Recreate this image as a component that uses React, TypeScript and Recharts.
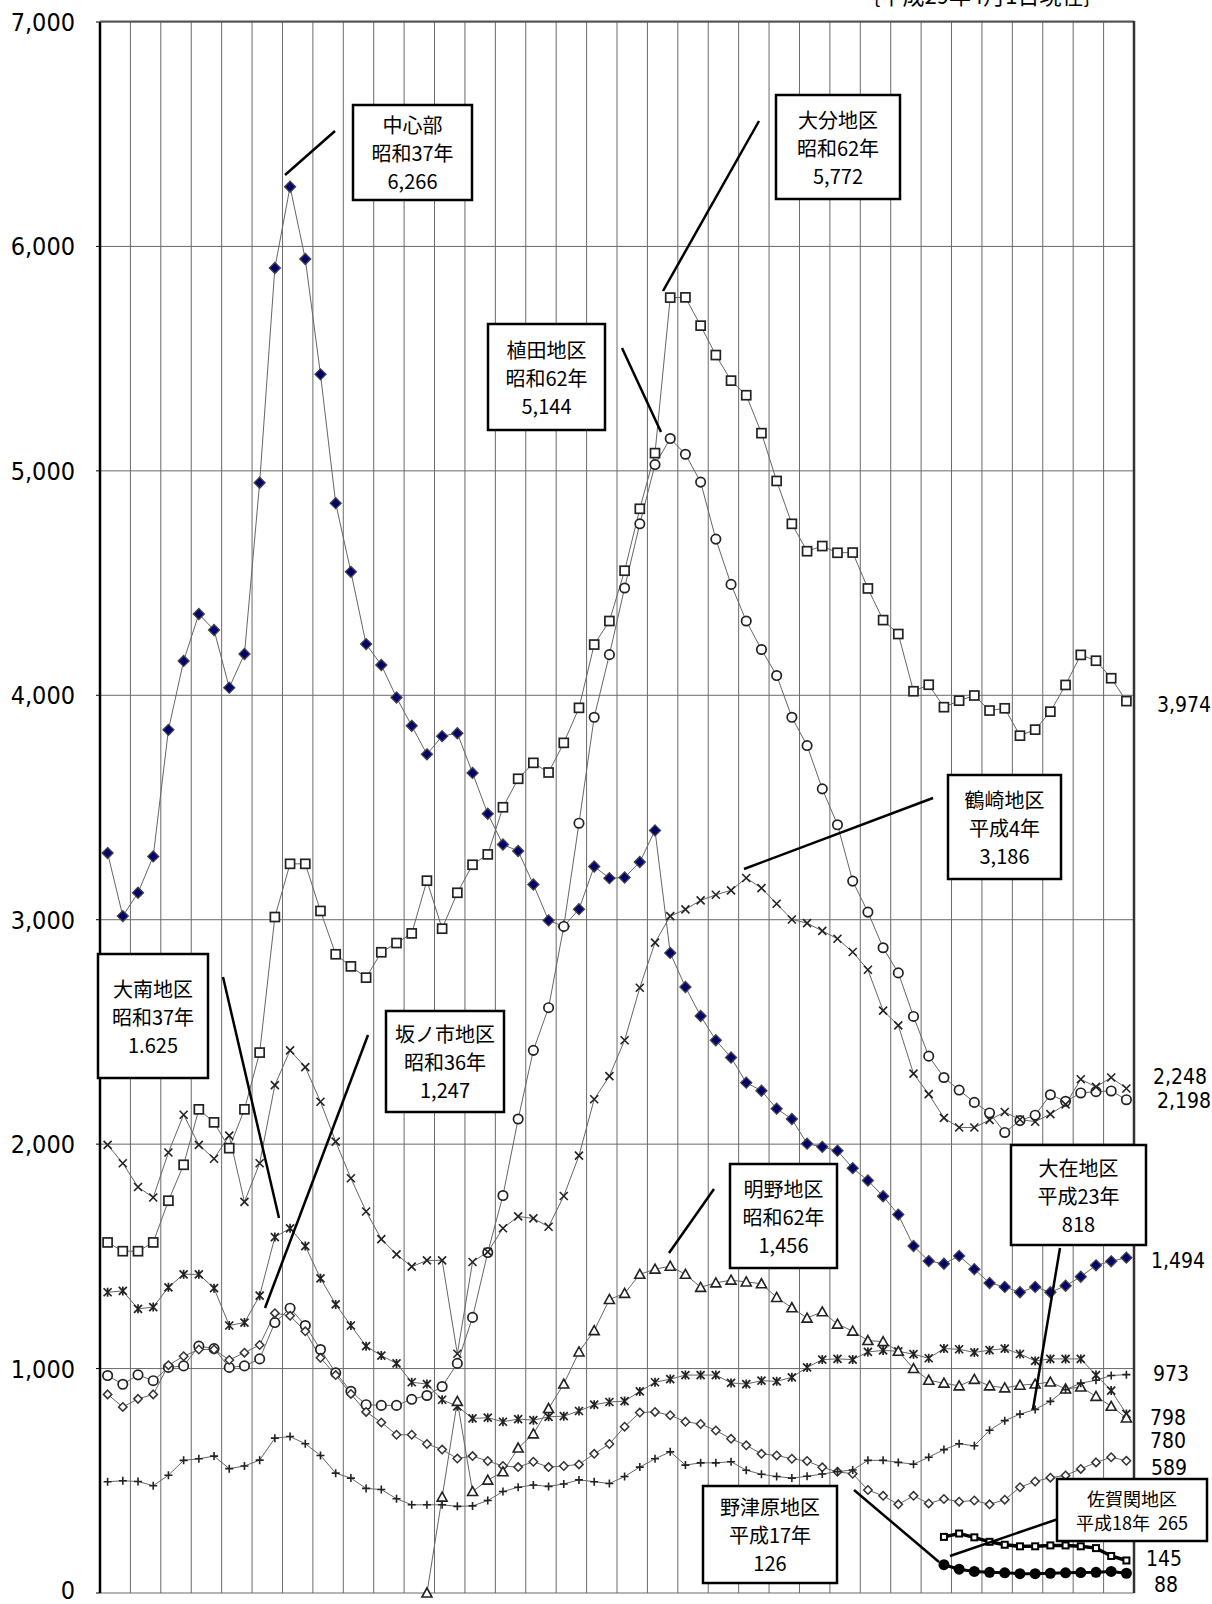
import React from "react";
import { LineChart, Line, XAxis, YAxis, CartesianGrid } from "recharts";

// 昭和25年(1950) から 平成29年(2017) まで
const YEARS = Array.from({ length: 68 }, (_, i) => 1950 + i);

const CHUSHIN = [
  3297, 3016, 3120, 3282, 3846, 4153, 4362, 4291, 4034, 4184,
  4947, 5904, 6266, 5944, 5430, 4856, 4550, 4228, 4135, 3990,
  3864, 3737, 3818, 3831, 3654, 3472, 3335, 3306, 3157, 2997,
  2970, 3047, 3237, 3185, 3188, 3257, 3398, 2852, 2700, 2571,
  2463, 2386, 2274, 2238, 2158, 2112, 2002, 1988, 1971, 1893,
  1838, 1768, 1686, 1546, 1479, 1467, 1502, 1443, 1381, 1364,
  1340, 1364, 1340, 1369, 1409, 1460, 1478, 1494,
];
const OITA = [
  1562, 1523, 1523, 1562, 1748, 1908, 2155, 2097, 1982, 2155,
  2408, 3012, 3249, 3249, 3039, 2846, 2792, 2742, 2855, 2896,
  2939, 3174, 2960, 3120, 3245, 3291, 3501, 3628, 3699, 3656,
  3788, 3944, 4226, 4331, 4555, 4831, 5079, 5772, 5773, 5647,
  5516, 5402, 5337, 5168, 4955, 4764, 4642, 4665, 4635, 4636,
  4476, 4335, 4273, 4018, 4047, 3947, 3976, 3999, 3932, 3942,
  3820, 3847, 3927, 4046, 4180, 4154, 4076, 3974,
];
const WASADA = [
  969, 930, 972, 946, 1005, 1012, 1100, 1089, 1005, 1012,
  1043, 1205, 1269, 1192, 1085, 981, 899, 839, 836, 836,
  863, 880, 920, 1023, 1228, 1517, 1771, 2112, 2418, 2608,
  2970, 3430, 3902, 4181, 4478, 4764, 5028, 5144, 5074, 4950,
  4696, 4494, 4331, 4204, 4088, 3902, 3776, 3583, 3423, 3172,
  3034, 2875, 2763, 2569, 2392, 2297, 2241, 2186, 2139, 2052,
  2105, 2129, 2220, 2191, 2228, 2234, 2237, 2198,
];
const TSURUSAKI = [
  1997, 1915, 1809, 1762, 1963, 2131, 1997, 1935, 2038, 1743,
  1915, 2263, 2418, 2343, 2189, 2011, 1848, 1700, 1577, 1509,
  1454, 1482, 1482, 1066, 1475, 1520, 1625, 1678, 1669, 1632,
  1769, 1949, 2200, 2303, 2463, 2697, 2898, 3016, 3046, 3086,
  3111, 3131, 3186, 3141, 3071, 3001, 2985, 2950, 2915, 2856,
  2777, 2595, 2529, 2314, 2223, 2117, 2074, 2074, 2108, 2143,
  2110, 2100, 2134, 2177, 2289, 2255, 2297, 2248,
];
const ONAN = [
  1340, 1346, 1266, 1274, 1362, 1420, 1420, 1358, 1192, 1205,
  1325, 1586, 1625, 1546, 1402, 1286, 1192, 1100, 1058, 1023,
  939, 931, 861, 832, 778, 781, 763, 775, 770, 785,
  788, 811, 839, 851, 855, 898, 939, 953, 971, 971,
  971, 936, 931, 946, 943, 961, 1005, 1040, 1043, 1040,
  1074, 1081, 1077, 1064, 1046, 1089, 1086, 1072, 1082, 1089,
  1065, 1034, 1043, 1043, 1043, 971, 902, 798,
];
const SAKANOICHI = [
  885, 829, 865, 885, 1015, 1055, 1085, 1085, 1038, 1071,
  1105, 1247, 1235, 1166, 1048, 971, 887, 807, 760, 705,
  705, 664, 639, 599, 610, 588, 566, 561, 585, 561,
  566, 573, 620, 664, 741, 804, 807, 792, 763, 753,
  724, 687, 658, 620, 613, 598, 588, 560, 540, 531,
  459, 433, 395, 433, 399, 419, 407, 412, 395, 416,
  471, 497, 514, 524, 553, 582, 605, 589,
];
const AKENO = [
  null, null, null, null, null, null, null, null, null, null,
  null, null, null, null, null, null, null, null, null, null,
  null, 0, 427, 854, 452, 503, 540, 646, 709, 822,
  931, 1074, 1169, 1308, 1335, 1420, 1443, 1456, 1420, 1362,
  1382, 1394, 1386, 1378, 1317, 1271, 1225, 1253, 1198, 1167,
  1125, 1120, 1077, 1000, 948, 935, 923, 952, 923, 914,
  926, 931, 940, 909, 918, 876, 832, 780,
];
const OZAI = [
  496, 500, 497, 478, 525, 591, 598, 610, 554, 566,
  592, 690, 697, 665, 613, 534, 512, 466, 461, 420,
  393, 393, 393, 386, 388, 412, 452, 471, 481, 475,
  486, 504, 496, 488, 519, 561, 598, 629, 570, 580,
  580, 585, 547, 529, 519, 512, 520, 530, 541, 548,
  591, 591, 582, 574, 605, 639, 665, 656, 725, 768,
  797, 818, 854, 906, 935, 948, 969, 973,
];
const NOTSUHARU = [
  null, null, null, null, null, null, null, null, null, null,
  null, null, null, null, null, null, null, null, null, null,
  null, null, null, null, null, null, null, null, null, null,
  null, null, null, null, null, null, null, null, null, null,
  null, null, null, null, null, null, null, null, null, null,
  null, null, null, null, null, 126, 106, 96, 92, 90,
  86, 86, 88, 90, 91, 92, 96, 88,
];
const SAGANOSEKI = [
  null, null, null, null, null, null, null, null, null, null,
  null, null, null, null, null, null, null, null, null, null,
  null, null, null, null, null, null, null, null, null, null,
  null, null, null, null, null, null, null, null, null, null,
  null, null, null, null, null, null, null, null, null, null,
  null, null, null, null, null, 250, 265, 248, 228, 215,
  208, 208, 212, 212, 208, 200, 165, 145,
];

const Y_TICKS = [0, 1000, 2000, 3000, 4000, 5000, 6000, 7000];
// 縦の目盛線は2年ごと（区間の境目）
const GRID_TICKS = Array.from({ length: 35 }, (_, k) => -0.5 + 2 * k);
const X_DOMAIN = [-0.5, 67.5];

const SERIES = [
  { key: "chushin", name: "中心部", values: CHUSHIN, shape: "fdiamond", color: "#666", width: 1 },
  { key: "oita", name: "大分地区", values: OITA, shape: "square", color: "#666", width: 1 },
  { key: "wasada", name: "植田地区", values: WASADA, shape: "circle", color: "#666", width: 1 },
  { key: "tsurusaki", name: "鶴崎地区", values: TSURUSAKI, shape: "cross", color: "#666", width: 1 },
  { key: "onan", name: "大南地区", values: ONAN, shape: "star", color: "#666", width: 1 },
  { key: "sakanoichi", name: "坂ノ市地区", values: SAKANOICHI, shape: "odiamond", color: "#666", width: 1 },
  { key: "akeno", name: "明野地区", values: AKENO, shape: "triangle", color: "#666", width: 1 },
  { key: "ozai", name: "大在地区", values: OZAI, shape: "plus", color: "#666", width: 1 },
  { key: "saganoseki", name: "佐賀関地区", values: SAGANOSEKI, shape: "bsquare", color: "#000", width: 3.5 },
  { key: "notsuharu", name: "野津原地区", values: NOTSUHARU, shape: "fcircle", color: "#000", width: 3 },
];

const data = YEARS.map((year, i) => {
  const row: any = { idx: i, year };
  SERIES.forEach((s) => {
    row[s.key] = s.values[i];
  });
  return row;
});

const makeDot = (shape: string) => (p: any) => {
  const { cx, cy, index, value } = p;
  const k = `${shape}-${index}`;
  if (value == null || cx == null || cy == null) return <g key={k} />;
  const ink = "#222";
  switch (shape) {
    case "fdiamond":
      return (
        <polygon key={k} points={`${cx},${cy - 5.5} ${cx + 5.5},${cy} ${cx},${cy + 5.5} ${cx - 5.5},${cy}`}
          fill="#00006e" stroke="#444" strokeWidth={1.3} />
      );
    case "square":
      return <rect key={k} x={cx - 4.5} y={cy - 4.5} width={9} height={9} fill="#fff" stroke={ink} strokeWidth={1.7} />;
    case "circle":
      return <circle key={k} cx={cx} cy={cy} r={4.7} fill="#fff" stroke={ink} strokeWidth={1.7} />;
    case "cross":
      return (
        <path key={k} d={`M${cx - 4},${cy - 4}L${cx + 4},${cy + 4}M${cx + 4},${cy - 4}L${cx - 4},${cy + 4}`}
          stroke={ink} strokeWidth={1.6} fill="none" />
      );
    case "star":
      return (
        <path key={k}
          d={`M${cx - 4},${cy - 4}L${cx + 4},${cy + 4}M${cx + 4},${cy - 4}L${cx - 4},${cy + 4}M${cx},${cy - 4.5}L${cx},${cy + 4.5}`}
          stroke={ink} strokeWidth={1.7} fill="none" />
      );
    case "odiamond":
      return (
        <polygon key={k} points={`${cx},${cy - 4.2} ${cx + 4.2},${cy} ${cx},${cy + 4.2} ${cx - 4.2},${cy}`}
          fill="#fff" stroke="#333" strokeWidth={1.5} />
      );
    case "triangle":
      return (
        <polygon key={k} points={`${cx},${cy - 5} ${cx + 5},${cy + 4} ${cx - 5},${cy + 4}`}
          fill="#fff" stroke={ink} strokeWidth={1.6} />
      );
    case "plus":
      return (
        <path key={k} d={`M${cx - 4},${cy}L${cx + 4},${cy}M${cx},${cy - 4}L${cx},${cy + 4}`}
          stroke={ink} strokeWidth={1.6} fill="none" />
      );
    case "fcircle":
      return <circle key={k} cx={cx} cy={cy} r={5.5} fill="#000" />;
    case "bsquare":
      return <rect key={k} x={cx - 3} y={cy - 3} width={6} height={6} fill="#fff" stroke="#000" strokeWidth={2} />;
    default:
      return <g key={k} />;
  }
};

// 吹き出し（位置はレイアウト用）
const NOTES = [
  { lines: ["中心部", "昭和37年", "6,266"], box: [353, 105, 119, 95], leader: [285, 175, 335, 131] },
  { lines: ["大分地区", "昭和62年", "5,772"], box: [776, 95, 124, 104], leader: [663, 291, 759, 121] },
  { lines: ["植田地区", "昭和62年", "5,144"], box: [488, 324, 117, 106], leader: [622, 348, 661, 432] },
  { lines: ["鶴崎地区", "平成4年", "3,186"], box: [948, 775, 113, 104], leader: [744, 869, 933, 798] },
  { lines: ["大南地区", "昭和37年", "1.625"], box: [98, 954, 110, 124], leader: [223, 977, 279, 1218] },
  { lines: ["坂ノ市地区", "昭和36年", "1,247"], box: [386, 1011, 118, 101], leader: [368, 1035, 265, 1308] },
  { lines: ["明野地区", "昭和62年", "1,456"], box: [730, 1164, 107, 104], leader: [714, 1189, 669, 1253] },
  { lines: ["大在地区", "平成23年", "818"], box: [1011, 1145, 135, 100], leader: [1060, 1248, 1033, 1409] },
  { lines: ["野津原地区", "平成17年", "126"], box: [703, 1486, 134, 97], leader: [854, 1490, 939, 1562] },
  { lines: ["佐賀関地区", "平成18年  265"], box: [1057, 1479, 150, 62], leader: [1061, 1518, 950, 1556] },
];

// 右端の値ラベル
const END_LABELS = [
  { key: "oita", x: 1157, y: 705 },
  { key: "tsurusaki", x: 1153, y: 1077 },
  { key: "wasada", x: 1157, y: 1101 },
  { key: "chushin", x: 1151, y: 1261 },
  { key: "ozai", x: 1153, y: 1374 },
  { key: "onan", x: 1150, y: 1418 },
  { key: "akeno", x: 1150, y: 1441 },
  { key: "sakanoichi", x: 1151, y: 1468 },
  { key: "saganoseki", x: 1146, y: 1559 },
  { key: "notsuharu", x: 1154, y: 1585 },
];

const NUM_FONT = "'DejaVu Sans Condensed', 'DejaVu Sans', sans-serif";
const JP_FONT = "'Noto Sans CJK JP', 'Noto Sans', sans-serif";

const fmt = (v: number) => v.toLocaleString("en-US");

// 縦線を区間の境目に置く
const verticalLines = ({ offset }: any) =>
  GRID_TICKS.map(
    (t) => offset.left + ((t - X_DOMAIN[0]) / (X_DOMAIN[1] - X_DOMAIN[0])) * offset.width
  );

const YTick = (p: any) => {
  const { x, y, payload } = p;
  const shift = payload.value === 0 ? -3 : 0;
  return (
    <text x={x} y={y + shift} dy="0.36em" textAnchor="end" fontSize={25} fontFamily={NUM_FONT} fill="#000">
      {fmt(payload.value)}
    </text>
  );
};

export default function App() {
  return (
    <div style={{ position: "absolute", left: 0, top: 0, width: 1212, height: 1604, background: "#fff" }}>
      <LineChart width={1212} height={1604} data={data} margin={{ top: 22, right: 78, bottom: 11, left: 0 }}>
        <CartesianGrid
          stroke="#6a6a6a"
          strokeWidth={1}
          verticalCoordinatesGenerator={verticalLines}
        />
        <XAxis
          type="number"
          dataKey="idx"
          domain={X_DOMAIN}
          ticks={GRID_TICKS}
          interval={0}
          tick={false}
          tickLine={false}
          height={0}
          axisLine={{ stroke: "#000", strokeWidth: 2.5 }}
        />
        <YAxis
          type="number"
          domain={[0, 7000]}
          ticks={Y_TICKS}
          interval={0}
          width={100}
          tickSize={4}
          tickMargin={21}
          axisLine={{ stroke: "#000", strokeWidth: 2.5 }}
          tickLine={{ stroke: "#000" }}
          tick={<YTick />}
        />
        {SERIES.map((s) => (
          <Line
            key={s.key}
            type="linear"
            dataKey={s.key}
            name={s.name}
            stroke={s.color}
            strokeWidth={s.width}
            dot={makeDot(s.shape)}
            activeDot={false}
            connectNulls={false}
            isAnimationActive={false}
          />
        ))}
      </LineChart>

      <svg width={1212} height={1604} style={{ position: "absolute", left: 0, top: 0, pointerEvents: "none" }}>
        <line x1={100} y1={21.5} x2={1134} y2={21.5} stroke="#555" strokeWidth={2} />
        <line x1={1134} y1={21} x2={1134} y2={1593} stroke="#333" strokeWidth={2.5} />
        <text x={982} y={4} textAnchor="middle" fontSize={22} fontFamily={JP_FONT} fill="#000">
          ｛平成29年4月1日現在｝
        </text>
        {NOTES.map((n, i) => {
          const [bx, by, bw, bh] = n.box;
          const [x1, y1, x2, y2] = n.leader;
          const small = n.lines.length === 2;
          const fs = small ? 18 : 20;
          const gap = small ? 24 : 28;
          const cy0 = by + bh / 2 - ((n.lines.length - 1) * gap) / 2;
          return (
            <g key={i}>
              <line x1={x1} y1={y1} x2={x2} y2={y2} stroke="#000" strokeWidth={2.5} />
              <rect x={bx} y={by} width={bw} height={bh} fill="#fff" stroke="#000" strokeWidth={2.5} />
              {n.lines.map((t, j) => (
                <text key={j} x={bx + bw / 2} y={cy0 + j * gap} textAnchor="middle" dominantBaseline="central"
                  fontSize={fs} fontFamily={JP_FONT} fill="#000" style={{ whiteSpace: "pre" }}>
                  {t}
                </text>
              ))}
            </g>
          );
        })}
        {END_LABELS.map((l) => {
          const s = SERIES.find((q) => q.key === l.key)!;
          const v = s.values[s.values.length - 1] as number;
          return (
            <text key={l.key} x={l.x} y={l.y} dominantBaseline="central" fontSize={21} fontFamily={NUM_FONT} fill="#000">
              {fmt(v)}
            </text>
          );
        })}
      </svg>
    </div>
  );
}
